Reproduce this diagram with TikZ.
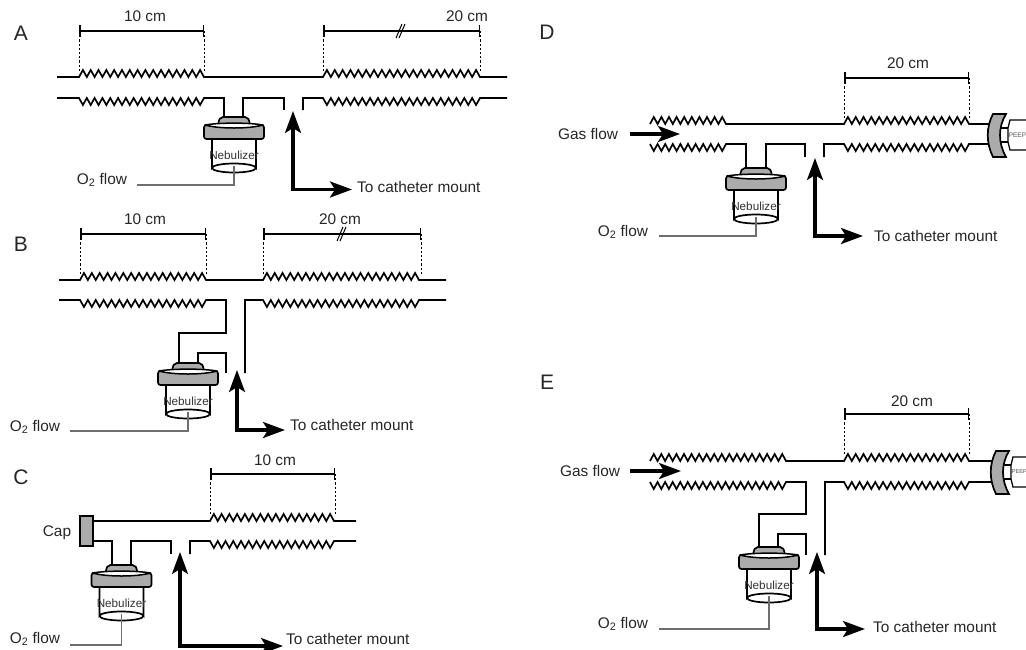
\documentclass[tikz,border=0pt]{standalone}
\usepackage{fontspec}
\setmainfont{Liberation Sans}
\usetikzlibrary{arrows.meta}

\definecolor{partgray}{HTML}{ABABAB}
\definecolor{oxygray}{HTML}{6E6E6E}

\tikzset{
  lbl/.style={inner sep=0pt,font=\fontsize{15.4}{18}\selectfont,text=black!85},
  panel/.style={inner sep=0pt,font=\fontsize{21}{24}\selectfont,text=black!85},
  wall/.style={line width=1.7pt,line join=miter},
  dimline/.style={line width=1.5pt,{Bar[width=12pt]}-{Bar[width=12pt]}},
  dimdash/.style={line width=.7pt,dash pattern=on 2.2pt off 2pt},
  oxyline/.style={line width=1.4pt,draw=oxygray},
  flowarrow/.style={line width=3.2pt,arrows={-{Stealth[length=22pt,width=16pt,inset=5pt]}}},
  bothflow/.style={line width=3.2pt,arrows={{Stealth[length=22pt,width=16pt,inset=5pt]}-{Stealth[length=22pt,width=16pt,inset=5pt]}}},
  nebulizer/.pic={
    \draw[wall,fill=partgray] (-16,8) .. controls (-15,2) and (-14,0) .. (-11,0) -- (11,0)
      .. controls (14,0) and (15,2) .. (16,8) -- cycle;
    \draw[wall,fill=white] (-22,20) -- (-22,51) arc (180:360:22 and 4.5) -- (22,20) -- cycle;
    \draw[wall] (-22,51) arc (180:0:22 and 4.5);
    \draw[wall,fill=partgray,rounded corners=2.5pt] (-30,8) -- (-30,22) -- (30,22) -- (30,8) -- cycle;
    \draw[line width=1.5pt,line join=round,fill=white] (-29,8) .. controls (-15,5.5) and (15,5.5) .. (29,8)
      .. controls (15,12) and (-15,12) .. (-29,8) -- cycle;
    \node[inner sep=0pt,font=\fontsize{11.7}{14}\selectfont,text=black!80] (-label) at (0,38) {Nebulizer};
    \coordinate (-out) at (0,49);
  },
  pics/peep/.style={code={
    \draw[line width=1.3pt,fill=white] (12,-7) -- (21,-7) -- (21,7) -- (12,7);
    \draw[line width=1.3pt,fill=white] (45,-15) -- (22,-15) -- (20,-7) -- (20,7) -- (22,15) -- (45,15);
    \node[inner sep=0pt,anchor=west,font=\fontsize{#1}{9}\selectfont,text=black!70] (-label) at (20.6,0) {PEEP};
    \draw[wall,fill=partgray] (5,-21) -- (18,-21) .. controls (10,-8) and (10,8) .. (18,22)
      -- (5,22) .. controls (-2,8) and (-2,-8) .. (5,-21) -- cycle;
  }}
}

\newcommand{\zigs}[3]{foreach \i in {1,...,#2} {-- ++({#1/#2/2},#3) -- ++({#1/#2/2},{-1*(#3)})}}
% name, left, right, bar y, wall y, text, text x, text y
\newcommand{\dimbar}[8]{
  \coordinate (#1l) at (#2,#4);
  \coordinate (#1r) at (#3,#4);
  \coordinate (#1w) at (#2,#5);
  \draw[dimline] (#1l) -- (#1r);
  \draw[dimdash] (#1l) -- (#1w);
  \draw[dimdash] (#1r) -- (#1r |- #1w);
  \node[lbl] (#1t) at (#7,#8) {#6};
}
\newcommand{\slashes}[2]{
  \draw[line width=1pt] (#1-5,#2+7) -- (#1+1,#2-7);
  \draw[line width=1pt] (#1-2,#2+7) -- (#1+4,#2-7);
}

\begin{document}
\begin{tikzpicture}[x=1pt,y=-1pt]
  \useasboundingbox (0,0) rectangle (1026,649);
  \clip (0,0) rectangle (1026,649);

  % panel A
  \node[panel] (panelA) at (21,33) {A};
  \draw[wall] (57,77) -- (79,77) \zigs{125}{16}{-7} -- (323,77) \zigs{157}{20}{-7} -- (507,77);
  \draw[wall] (57,98) -- (79,98) \zigs{125}{16}{7} -- (224,98) -- (224,118);
  \draw[wall] (243,118) -- (243,98) -- (284,98) -- (284,110);
  \draw[wall] (303,110) -- (303,98) -- (323,98) \zigs{157}{20}{7} -- (507,98);
  \dimbar{tenA}{79}{204}{31}{72}{10 cm}{145}{16}
  \dimbar{twentyA}{323}{480}{31}{72}{20 cm}{467}{16}
  \slashes{401}{31}
  \pic (nebA) at (234,117) {nebulizer};
  \node[lbl] (oxyA) at (102,180) {O\textsubscript{2} flow};
  \coordinate (oxyAend) at (137,185);
  \draw[oxyline] (nebA-out) |- (oxyAend);
  \node[lbl,anchor=west] (toA) at (357,187) {To catheter mount};
  \coordinate (tipA) at (293,111);
  \coordinate (cornerA) at (293,189.5);
  \draw[bothflow] (tipA) -- (cornerA) -- (352,189.5);

  % panel B
  \node[panel] (panelB) at (21,244) {B};
  \draw[wall] (59,280) -- (80,280) \zigs{126}{16}{-7} -- (263,280) \zigs{156}{20}{-7} -- (446,280);
  \draw[wall] (59,300) -- (80,300) \zigs{126}{16}{7} -- (226,300) -- (226,333) -- (179,333) -- (179,364);
  \draw[wall] (198,364) -- (198,353) -- (226,353) -- (226,373);
  \draw[wall] (245,373) -- (245,300) -- (263,300) \zigs{156}{20}{7} -- (446,300);
  \dimbar{tenB}{80}{206}{234}{275}{10 cm}{145}{219}
  \dimbar{twentyB}{263}{421}{234}{275}{20 cm}{340}{219}
  \slashes{342}{234}
  \pic (nebB) at (188,363) {nebulizer};
  \node[lbl] (oxyB) at (35,427) {O\textsubscript{2} flow};
  \coordinate (oxyBend) at (70,431);
  \draw[oxyline] (nebB-out) |- (oxyBend);
  \node[lbl,anchor=west] (toB) at (290,425) {To catheter mount};
  \coordinate (tipB) at (237,370);
  \coordinate (cornerB) at (237,430);
  \draw[bothflow] (tipB) -- (cornerB) -- (285,430);

  % panel C
  \node[panel] (panelC) at (21,477) {C};
  \node[lbl] (capC) at (57,533) {Cap};
  \draw[wall] (93,521) -- (210,521) \zigs{124}{16}{-7} -- (356,521);
  \draw[wall] (93,541) -- (112,541) -- (112,566);
  \draw[wall] (131,566) -- (131,541) -- (171,541) -- (171,554);
  \draw[wall] (190,554) -- (190,541) -- (210,541) \zigs{124}{16}{7} -- (356,541);
  \draw[wall,fill=partgray] (80,516) rectangle (93,546);
  \dimbar{tenC}{210}{335}{474}{515}{10 cm}{275}{460}
  \pic (nebC) at (121.5,565) {nebulizer};
  \node[lbl] (oxyC) at (35,639) {O\textsubscript{2} flow};
  \coordinate (oxyCend) at (70,645);
  \draw[oxyline] (nebC-out) |- (oxyCend);
  \node[lbl,anchor=west] (toC) at (286,639) {To catheter mount};
  \coordinate (tipC) at (180,552);
  \coordinate (cornerC) at (180,646);
  \draw[bothflow] (tipC) -- (cornerC) -- (283,646);

  % panel D
  \node[panel] (panelD) at (547,32) {D};
  \draw[wall] (650,124) \zigs{76}{10}{-7} -- (844,124) \zigs{125}{16}{-7} -- (990,124);
  \draw[wall] (650,144) \zigs{76}{10}{7} -- (746,144) -- (746,169);
  \draw[wall] (766,169) -- (766,144) -- (805,144) -- (805,157);
  \draw[wall] (824,157) -- (824,144) -- (844,144) \zigs{125}{16}{7} -- (990,144);
  \dimbar{twentyD}{844}{969}{78}{118}{20 cm}{908}{63}
  \node[lbl] (gasD) at (588,134) {Gas flow};
  \coordinate (gasDs) at (630,134);
  \coordinate (gasDe) at (680,134);
  \draw[flowarrow] (gasDs) -- (gasDe);
  \pic (nebD) at (756,168) {nebulizer};
  \node[lbl] (oxyD) at (623,232) {O\textsubscript{2} flow};
  \coordinate (oxyDend) at (659,236);
  \draw[oxyline] (nebD-out) |- (oxyDend);
  \node[lbl,anchor=west] (toD) at (874,236) {To catheter mount};
  \coordinate (tipD) at (815,158);
  \coordinate (cornerD) at (815,236);
  \draw[bothflow] (tipD) -- (cornerD) -- (863,236);
  \pic (valveD) at (988,135) {peep=6.5};

  % panel E
  \node[panel] (panelE) at (547,382) {E};
  \draw[wall] (650,461) \zigs{136}{18}{-7} -- (844,461) \zigs{125}{16}{-7} -- (993,461);
  \draw[wall] (650,482) \zigs{136}{18}{7} -- (806,482) -- (806,514) -- (759,514) -- (759,548);
  \draw[wall] (778,548) -- (778,534) -- (806,534) -- (806,555);
  \draw[wall] (825,555) -- (825,482) -- (844,482) \zigs{125}{16}{7} -- (993,482);
  \dimbar{twentyE}{844}{969}{414}{455}{20 cm}{912}{401}
  \node[lbl] (gasE) at (590,471) {Gas flow};
  \coordinate (gasEs) at (630,471);
  \coordinate (gasEe) at (681,471);
  \draw[flowarrow] (gasEs) -- (gasEe);
  \pic (nebE) at (769,547) {nebulizer};
  \node[lbl] (oxyE) at (623,624) {O\textsubscript{2} flow};
  \coordinate (oxyEend) at (659,629);
  \draw[oxyline] (nebE-out) |- (oxyEend);
  \node[lbl,anchor=west] (toE) at (873,627) {To catheter mount};
  \coordinate (tipE) at (817,552);
  \coordinate (cornerE) at (817,629);
  \draw[bothflow] (tipE) -- (cornerE) -- (865,629);
  \pic (valveE) at (991,472) {peep=5.6};
\end{tikzpicture}
\end{document}
